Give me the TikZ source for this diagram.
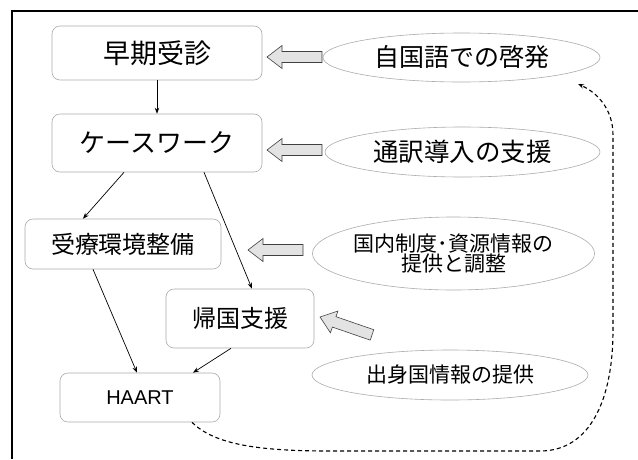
\documentclass[tikz,border=0pt]{standalone}
\usepackage{fontspec}
\newfontfamily\jp{Noto Sans CJK JP}
\newfontfamily\lat{Liberation Sans}
\usetikzlibrary{arrows.meta,calc,shapes.geometric}
\begin{document}
\begin{tikzpicture}[x=1pt,y=-1pt,
  box/.style={draw=gray!65, line width=0.6pt, rounded corners=8pt, inner sep=0pt, font=\jp},
  ell/.style={draw=gray!65, line width=0.6pt, ellipse, inner sep=0pt, font=\jp, align=center},
  conn/.style={line width=0.7pt, -{Stealth[length=6pt,width=4.5pt]}},
  dashconn/.style={line width=1.1pt, dash pattern=on 4pt off 3pt, -{Stealth[length=6pt,width=4.5pt]}},
  frameline/.style={line width=1.8pt, black},
  barrow/.pic={\draw[draw=gray!50!black, fill=gray!22, line width=0.6pt]
    (0,0) -- (15,-11.5) -- (15,-5.5) -- (55,-5.5) -- (55,5.5) -- (15,5.5) -- (15,11.5) -- cycle;}
]
\useasboundingbox (0,0) rectangle (638,459);
\fill[white] (0,0) rectangle (638,459);
% frame
\draw[frameline] (12,459) -- (12,11) -- (638,11);

% boxes
\node[box, minimum width=210pt, minimum height=54pt] (b1) at (157,53) {\fontsize{27pt}{30pt}\selectfont 早期受診};
\node[box, minimum width=210pt, minimum height=58pt] (b2) at (157,143) {\fontsize{26pt}{30pt}\selectfont ケースワーク};
\node[box, minimum width=196pt, minimum height=50pt] (b3) at (123,244) {\fontsize{24pt}{28pt}\selectfont 受療環境整備};
\node[box, minimum width=148pt, minimum height=59pt] (b4) at (240,318.5) {\fontsize{24pt}{28pt}\selectfont 帰国支援};
\node[box, minimum width=160pt, minimum height=49pt, font=\lat] (b5) at (140,397.5) {\fontsize{20pt}{23pt}\selectfont HAART};

% ellipses
\node[ell, minimum width=277pt, minimum height=49pt] (e1) at (461.5,57.5) {\fontsize{25pt}{29pt}\selectfont 自国語での啓発};
\node[ell, minimum width=275pt, minimum height=50pt] (e2) at (462.5,152) {\fontsize{25.5pt}{29pt}\selectfont 通訳導入の支援};
\node[ell, minimum width=277pt, minimum height=73pt] (e3) at (453.5,253.5) {\fontsize{21pt}{23pt}\selectfont 国内制度･資源情報の\\\fontsize{21pt}{23pt}\selectfont 提供と調整};
\node[ell, minimum width=276pt, minimum height=50pt] (e4) at (450,375) {\fontsize{21pt}{25pt}\selectfont 出身国情報の提供};

% block arrows
\pic at (267,57) {barrow};
\pic at (267,150) {barrow};
\pic at (248,250) {barrow};
\pic[rotate=-19] at (320,317) {barrow};

% connectors
\draw[conn] (b1.south) -- (b2.north);
\draw[conn] ([xshift=-33pt]b2.south) -- ([xshift=-40pt]b3.north);
\draw[conn] ([xshift=47pt]b2.south) -- ([xshift=12pt]b4.north);
\draw[conn] ([xshift=-30pt]b3.south) -- ([xshift=-3pt]b5.north);
\draw[conn] ([xshift=-9pt]b4.south) -- ([xshift=53pt]b5.north);

% dashed feedback
\coordinate (d0) at ([xshift=52pt]b5.south);
\coordinate (d1) at (578,84);
\draw[dashconn] (d0) .. controls (215,445) and (260,451) .. (330,451) -- (540,451)
  .. controls (590,451) and (613,400) .. (613,330) -- (613,135)
  .. controls (613,108) and (596,92) .. (d1);
\end{tikzpicture}
\end{document}
